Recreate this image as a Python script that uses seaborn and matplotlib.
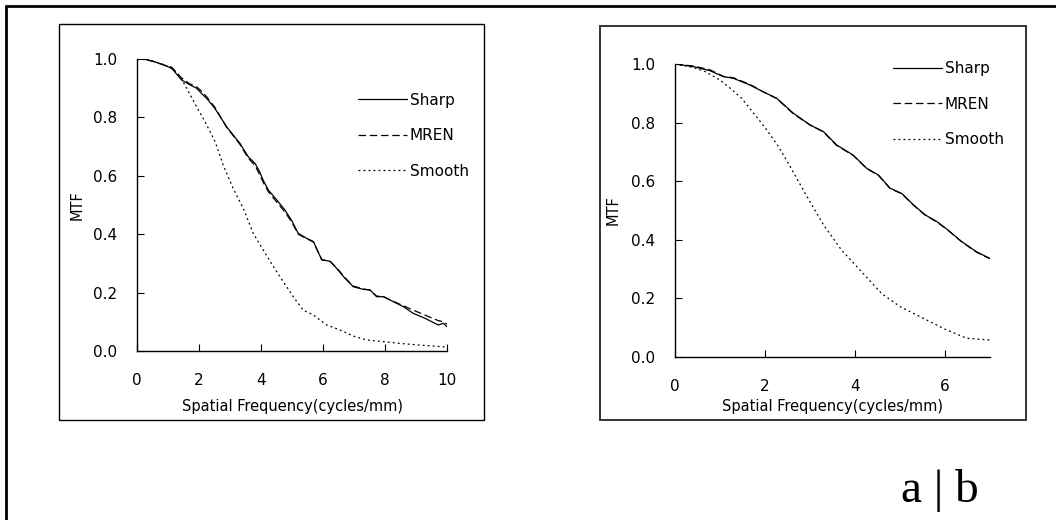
import numpy as np
import pandas as pd
import matplotlib
matplotlib.use('Agg')
import matplotlib.pyplot as plt
import matplotlib.patches as patches
import seaborn as sns

# Panel a: MTF curves up to 10 cycles/mm
a_freq = [0, 0.3, 0.58, 0.85, 1.12, 1.44, 1.7, 1.92, 2.1, 2.25, 2.51, 2.7, 2.89, 3.1,
          3.32, 3.59, 3.81, 3.95, 4.07, 4.24, 4.51, 4.77, 5.0, 5.2, 5.47, 5.69, 5.96,
          6.23, 6.44, 6.7, 6.98, 7.3, 7.52, 7.73, 7.95, 8.27, 8.59, 8.91, 9.29, 9.72,
          9.89, 10.0]
a_sharp = [1.0, 0.998, 0.99, 0.98, 0.968, 0.928, 0.912, 0.90, 0.88, 0.865, 0.831, 0.80,
           0.768, 0.74, 0.711, 0.665, 0.642, 0.615, 0.585, 0.551, 0.517, 0.483, 0.445,
           0.403, 0.386, 0.375, 0.312, 0.307, 0.283, 0.25, 0.220, 0.211, 0.209, 0.186,
           0.186, 0.169, 0.152, 0.129, 0.112, 0.089, 0.095, 0.083]
a_mren = [1.0, 0.998, 0.99, 0.98, 0.972, 0.935, 0.915, 0.905, 0.888, 0.87, 0.835, 0.80,
          0.766, 0.738, 0.708, 0.66, 0.635, 0.605, 0.578, 0.545, 0.51, 0.476, 0.44,
          0.40, 0.385, 0.373, 0.313, 0.307, 0.285, 0.252, 0.222, 0.213, 0.208, 0.188,
          0.186, 0.17, 0.155, 0.14, 0.123, 0.104, 0.100, 0.092]
a_freq_smooth = [0, 0.3, 0.6, 0.9, 1.12, 1.39, 1.6, 1.92, 2.19, 2.52, 2.78, 3.1, 3.43,
                 3.75, 4.07, 4.4, 4.72, 5.04, 5.36, 5.69, 6.12, 6.55, 6.98, 7.41, 7.95,
                 8.48, 9.02, 9.56, 10.0]
a_smooth = [1.0, 0.998, 0.99, 0.979, 0.968, 0.94, 0.90, 0.837, 0.786, 0.717, 0.637,
            0.557, 0.488, 0.403, 0.346, 0.289, 0.237, 0.186, 0.140, 0.123, 0.089, 0.072,
            0.051, 0.038, 0.032, 0.026, 0.021, 0.017, 0.013]

# Panel b: MTF curves up to 7 cycles/mm
b_freq = [0, 0.41, 0.78, 1.07, 1.30, 1.67, 1.96, 2.26, 2.63, 3.0, 3.30, 3.59, 3.96,
          4.26, 4.52, 4.78, 5.04, 5.3, 5.56, 5.82, 6.07, 6.37, 6.70, 7.0]
b_sharp = [1.0, 0.991, 0.977, 0.957, 0.951, 0.928, 0.905, 0.883, 0.832, 0.792, 0.769,
           0.724, 0.689, 0.644, 0.621, 0.576, 0.558, 0.519, 0.485, 0.462, 0.433, 0.394,
           0.359, 0.336]
b_mren = [1.0, 0.993, 0.98, 0.958, 0.953, 0.93, 0.905, 0.882, 0.83, 0.792, 0.768,
          0.722, 0.688, 0.643, 0.62, 0.575, 0.557, 0.518, 0.484, 0.461, 0.432, 0.393,
          0.358, 0.335]
b_freq_smooth = [0, 0.41, 0.67, 1.0, 1.26, 1.48, 1.81, 2.04, 2.30, 2.56, 2.81, 3.04,
                 3.30, 3.70, 4.11, 4.59, 5.0, 5.44, 6.0, 6.48, 7.0]
b_smooth = [1.0, 0.988, 0.974, 0.945, 0.913, 0.883, 0.820, 0.775, 0.718, 0.650, 0.581,
            0.519, 0.451, 0.365, 0.297, 0.217, 0.172, 0.138, 0.095, 0.064, 0.058]

series_labels = ['Sharp', 'MREN', 'Smooth']
line_styles = ['-', (0, (6, 3)), (0, (1.5, 2.5))]

sns.set_style('ticks')
plt.rcParams['font.family'] = ['DejaVu Sans']
plt.rcParams['text.color'] = 'black'
plt.rcParams['axes.labelcolor'] = 'black'
plt.rcParams['xtick.color'] = 'black'
plt.rcParams['ytick.color'] = 'black'

fig = plt.figure(figsize=(10.56, 5.2), dpi=100)
W, H = 1056, 520


def fig_box(x0, y0, x1, y1, lw, color='black'):
    # pixel coords (top-left origin) -> figure rectangle
    r = patches.Rectangle((x0 / W, 1 - y1 / H), (x1 - x0) / W, (y1 - y0) / H,
                          transform=fig.transFigure, fill=False, lw=lw,
                          edgecolor=color)
    fig.patches.append(r)


# outer frame (left and top edges visible) and panel boxes
fig.add_artist(plt.Line2D([6 / W, 6 / W], [0, 1 - 6 / H], transform=fig.transFigure,
                          color='black', lw=2))
fig.add_artist(plt.Line2D([6 / W, 1], [1 - 6 / H, 1 - 6 / H], transform=fig.transFigure,
                          color='black', lw=2))
fig_box(59, 24, 484, 420, 1.0)
fig_box(600, 26, 1026, 420, 1.4, '#333333')


def make_panel(rect, xs, ys, xmax, xticks, leg_anchor, xpad, ypad):
    ax = fig.add_axes(rect)
    for x, y, lab, ls in zip(xs, ys, series_labels, line_styles):
        df = pd.DataFrame({'f': x, 'mtf': y})
        sns.lineplot(data=df, x='f', y='mtf', ax=ax, color='black', lw=0.9,
                     linestyle=ls, label=lab)
    ax.set_xlim(0, xmax)
    ax.set_ylim(0, 1.0)
    ax.set_xticks(xticks)
    ax.set_yticks(np.arange(0, 1.01, 0.2))
    ax.set_yticklabels([f'{v:.1f}' for v in np.arange(0, 1.01, 0.2)])
    ax.tick_params(axis='both', direction='in', length=5, width=0.8, labelsize=11)
    ax.tick_params(axis='y', pad=14)
    ax.tick_params(axis='x', pad=16)
    sns.despine(ax=ax)
    for s in ['left', 'bottom']:
        ax.spines[s].set_linewidth(1.0)
        ax.spines[s].set_color('black')
    ax.set_xlabel('Spatial Frequency(cycles/mm)', fontsize=10.5, labelpad=xpad)
    ax.set_ylabel('MTF', fontsize=10.5, labelpad=ypad)
    ax.legend(loc='upper left', bbox_to_anchor=leg_anchor, frameon=False,
              handlelength=3.2, handletextpad=0.2, labelspacing=1.35,
              borderpad=0, borderaxespad=0, fontsize=11)
    return ax


make_panel([137 / W, 1 - 351 / H, 310 / W, 292 / H],
           [a_freq, a_freq, a_freq_smooth], [a_sharp, a_mren, a_smooth],
           10, [0, 2, 4, 6, 8, 10], (0.713, 0.885), 7.5, 6)
make_panel([675 / W, 1 - 357 / H, 315 / W, 293 / H],
           [b_freq, b_freq, b_freq_smooth], [b_sharp, b_mren, b_smooth],
           7, [0, 2, 4, 6], (0.692, 1.01), 3.5, 8)

fig.text(940 / W, 1 - 502 / H, 'a | b', ha='center', va='baseline',
         family='Liberation Serif', fontsize=34, color='black')

fig.savefig('out.png', dpi=100)
